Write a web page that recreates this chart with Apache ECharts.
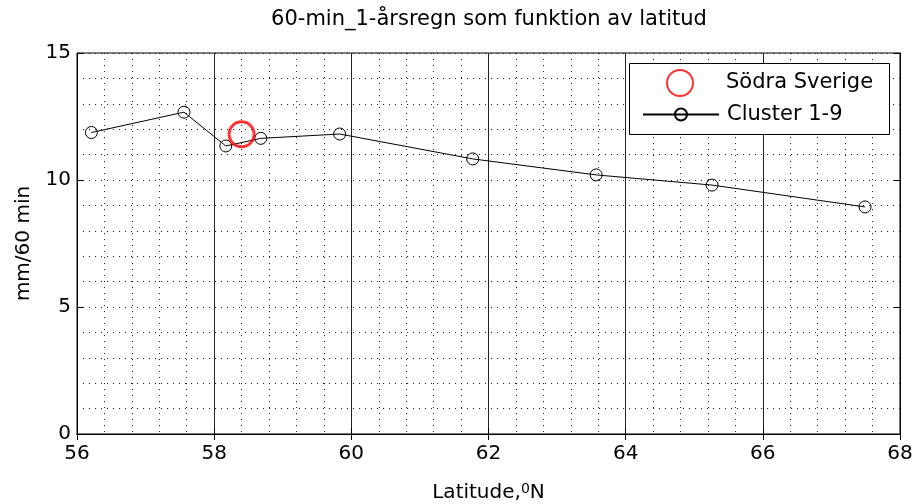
<!DOCTYPE html>
<html>
<head>
<meta charset="utf-8">
<script src="https://cdn.jsdelivr.net/npm/echarts@6/dist/echarts.min.js"></script>
<style>
  html, body { margin: 0; padding: 0; background: #fff; }
  #main { width: 913px; height: 504px; }
</style>
</head>
<body>
<div id="main"></div>
<script>
    // Cluster 1-9, latitud och 60-min regn
    var latitudes = [56.21, 57.56, 58.17, 58.68, 59.83, 61.77, 63.57, 65.26, 67.49];
    var clusterValues = [11.87, 12.67, 11.34, 11.64, 11.81, 10.83, 10.20, 9.80, 8.94];
    // Södra Sverige
    var sodraLat = [58.40];
    var sodraValues = [11.80];
    var xTicks = [56, 58, 60, 62, 64, 66, 68];
    var yTicks = [0, 5, 10, 15];

    var font = 'DejaVu Sans';
    var myChart = echarts.init(document.getElementById('main'));

    var dotted = { color: '#222', width: 1, type: [1, 5] };
    var legendText = { fontFamily: font, fontSize: 21, color: '#000', padding: [0, 0, 0, 3] };

    var option = {
        animation: false,
        textStyle: { fontFamily: font, color: '#000' },
        title: {
            text: '60-min_1-årsregn som funktion av latitud',
            left: 484,
            top: 4,
            textAlign: 'center',
            textStyle: { fontFamily: font, fontSize: 21, fontWeight: 'normal', color: '#000' }
        },
        grid: {
            left: 77, right: 13, top: 53, bottom: 70,
            outerBoundsMode: 'none',
            show: true, borderColor: '#000', borderWidth: 1
        },
        // legendruta ritas separat, två legender inuti (olika symbolstorlek)
        graphic: [{
            type: 'rect',
            z: 10,
            shape: { x: 629.5, y: 63.5, width: 260, height: 71 },
            style: { fill: '#fff', stroke: '#000', lineWidth: 1 }
        }],
        legend: [{
            left: 666,
            top: 69,
            padding: 0,
            itemWidth: 76,
            itemHeight: 26,
            z: 11,
            textStyle: legendText,
            data: ['Södra Sverige']
        }, {
            left: 642,
            top: 104,
            padding: 0,
            itemWidth: 76,
            itemHeight: 15,
            z: 11,
            textStyle: legendText,
            data: ['Cluster 1-9']
        }],
        xAxis: [{
            type: 'value',
            min: xTicks[0],
            max: xTicks[xTicks.length - 1],
            interval: 2,
            name: 'Latitude,{sup|0}N',
            nameLocation: 'middle',
            nameGap: 48,
            nameTextStyle: {
                fontFamily: font, fontSize: 20, color: '#000',
                rich: { sup: { fontFamily: font, fontSize: 14, color: '#000', verticalAlign: 'top', padding: [0, 0, 8, 0] } }
            },
            axisLine: { lineStyle: { color: '#000', width: 1 } },
            axisTick: { inside: true, length: 6, lineStyle: { color: '#000' } },
            axisLabel: { fontFamily: font, fontSize: 20, color: '#000', margin: 10 },
            splitLine: { show: true, lineStyle: { color: '#222', width: 1 } },
            minorTick: { show: false, splitNumber: 5 },
            minorSplitLine: { show: true, lineStyle: dotted }
        }, {
            type: 'value',
            position: 'top',
            min: xTicks[0],
            max: xTicks[xTicks.length - 1],
            interval: 2,
            axisLine: { show: true, lineStyle: { color: '#000' } },
            axisTick: { inside: true, length: 6, lineStyle: { color: '#000' } },
            axisLabel: { show: false },
            splitLine: { show: false }
        }],
        yAxis: [{
            type: 'value',
            min: yTicks[0],
            max: yTicks[yTicks.length - 1],
            interval: 5,
            name: 'mm/60 min',
            nameLocation: 'middle',
            nameRotate: 90,
            nameGap: 43,
            nameTextStyle: { fontFamily: font, fontSize: 20, color: '#000' },
            axisLine: { show: true, lineStyle: { color: '#000', width: 1 } },
            axisTick: { show: true, inside: true, length: 6, lineStyle: { color: '#000' } },
            axisLabel: { fontFamily: font, fontSize: 20, color: '#000', margin: 6 },
            splitLine: { show: true, lineStyle: dotted },
            minorTick: { show: false, splitNumber: 5 },
            minorSplitLine: { show: true, lineStyle: dotted }
        }, {
            type: 'value',
            position: 'right',
            min: yTicks[0],
            max: yTicks[yTicks.length - 1],
            interval: 5,
            axisLine: { show: true, lineStyle: { color: '#000' } },
            axisTick: { show: true, inside: true, length: 6, lineStyle: { color: '#000' } },
            axisLabel: { show: false },
            splitLine: { show: false }
        }],
        series: [
            {
                name: 'Cluster 1-9',
                type: 'line',
                data: latitudes.map(function (x, i) { return [x, clusterValues[i]]; }),
                symbol: 'circle',
                symbolSize: 12,
                lineStyle: { color: '#000', width: 1 },
                itemStyle: { color: 'rgba(0,0,0,0)', borderColor: '#000', borderWidth: 1 },
                z: 3
            },
            {
                name: 'Södra Sverige',
                type: 'scatter',
                data: sodraLat.map(function (x, i) { return [x, sodraValues[i]]; }),
                symbol: 'circle',
                symbolSize: 25,
                itemStyle: { color: 'rgba(0,0,0,0)', borderColor: '#ff0000', borderWidth: 3 },
                z: 4
            }
        ]
    };

    myChart.setOption(option);
</script>
</body>
</html>
